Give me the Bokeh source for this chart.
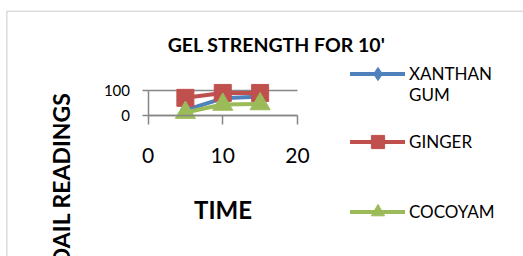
from math import pi
from bokeh.plotting import figure
from bokeh.models import Range1d, FixedTicker, Label, Legend, LegendItem, PolyAnnotation
from bokeh.embed import file_html
from bokeh.resources import INLINE

# ---- data ----
time = [5, 10, 15]
xanthan = [20, 68, 75]
ginger = [70, 90, 90]
cocoyam = [10, 43, 45]
x_ticks = [0, 10, 20]
y_ticks = [0, 100]
series_names = ["\nXANTHAN\nGUM", "GINGER", "COCOYAM"]
title_text = "GEL STRENGTH FOR 10'"
x_title = "TIME"
y_title = "DAIL READINGS"

BLUE = "#4F81BD"
RED = "#C0504D"
GREEN = "#9BBB59"
GRID = "#868686"
FONT = "Lato"

W, H = 523, 256
# plot-area geometry (canvas px): x=0 at 147.5, x=20 at 297 ; y=0 at 114.5, y=100 at 90
X0PX, XPX = 147.5, 7.475
Y0PX, YPX = 114.5, 0.245
x_range = Range1d(-X0PX / XPX, (W - X0PX) / XPX)
y_range = Range1d(-(H - Y0PX) / YPX, Y0PX / YPX)

p = figure(width=W, height=H, output_backend="svg", toolbar_location=None,
           x_range=x_range, y_range=y_range,
           min_border_left=0, min_border_right=0, min_border_top=0, min_border_bottom=0)
p.outline_line_color = None
p.background_fill_color = "white"
p.border_fill_color = "white"

# axes
p.xaxis.ticker = FixedTicker(ticks=x_ticks)
p.xaxis.fixed_location = 0
p.xaxis.bounds = (0, 20)
p.xaxis.axis_line_color = GRID
p.xaxis.axis_line_width = 1.5
p.xaxis.major_tick_line_color = GRID
p.xaxis.major_tick_line_width = 1.5
p.xaxis.major_tick_out = 9
p.xaxis.major_tick_in = 0
p.xaxis.minor_tick_line_color = None
p.xaxis.major_label_text_font = FONT
p.xaxis.major_label_text_font_size = "21px"
p.xaxis.major_label_text_color = "black"
p.xaxis.major_label_standoff = 24
p.xaxis.axis_label = x_title
p.xaxis.axis_label_text_font = FONT
p.xaxis.axis_label_text_font_style = "bold"
p.xaxis.axis_label_text_font_size = "24px"
p.xaxis.axis_label_text_color = "black"
p.xaxis.axis_label_standoff = 28

p.yaxis.ticker = FixedTicker(ticks=y_ticks)
p.yaxis.fixed_location = 0
p.yaxis.bounds = (0, 100)
p.yaxis.axis_line_color = GRID
p.yaxis.axis_line_width = 1.5
p.yaxis.major_tick_line_color = GRID
p.yaxis.major_tick_line_width = 1.5
p.yaxis.major_tick_out = 6
p.yaxis.major_tick_in = 0
p.yaxis.minor_tick_line_color = None
p.yaxis.major_label_text_font = FONT
p.yaxis.major_label_text_font_size = "15px"
p.yaxis.major_label_text_color = "black"
p.yaxis.major_label_standoff = 12

p.xgrid.visible = False
p.ygrid.ticker = FixedTicker(ticks=y_ticks)
p.ygrid.cross_bounds = (0, 20)
p.ygrid.grid_line_color = GRID
p.ygrid.grid_line_width = 1.5

# series
l1 = p.line(time, xanthan, line_width=4, color=BLUE, line_join="round", line_cap="round")
s1 = p.scatter(time, xanthan, marker="diamond", size=13, color=BLUE)
l2 = p.line(time, ginger, line_width=4, color=RED, line_join="round", line_cap="round")
s2 = p.scatter(time, ginger, marker="square", size=17, color=RED)
l3 = p.line(time, cocoyam, line_width=4, color=GREEN, line_join="round", line_cap="round")
s3 = p.scatter(time, cocoyam, marker="triangle", size=20, color=GREEN)

def make_legend(name, rends, loc, **kw):
    lg = Legend(items=[LegendItem(label=name, renderers=rends)], location=loc,
                glyph_width=55, glyph_height=33, label_standoff=4, padding=0, margin=0,
                border_line_color=None, background_fill_alpha=0,
                label_text_font=FONT, label_text_font_size="17px", label_text_color="black", **kw)
    p.add_layout(lg)

make_legend(series_names[0], [l1, s1], (350, 151), label_text_line_height=1.4)
make_legend(series_names[1], [l2, s2], (350, 98))
make_legend(series_names[2], [l3, s3], (350, 28.5))

p.add_layout(Label(x=276, y=212, x_units="screen", y_units="screen", text=title_text,
                   text_align="center", text_baseline="middle", text_font=FONT,
                   text_font_style="bold", text_font_size="19.5px", text_color="black"))
p.add_layout(Label(x=60, y=164, x_units="screen", y_units="screen", text=y_title,
                   angle=pi / 2, text_align="right", text_baseline="alphabetic",
                   text_font=FONT, text_font_style="bold", text_font_size="23px",
                   text_color="black"))

p.add_layout(PolyAnnotation(xs=[6.3, 6.3, 2000, 2000], ys=[-500, 245.3, 245.3, -500],
                            xs_units="screen", ys_units="screen", fill_alpha=0,
                            line_color="#8a8a8a", line_width=1.5))

open("out.html", "w").write(file_html(p, INLINE))
